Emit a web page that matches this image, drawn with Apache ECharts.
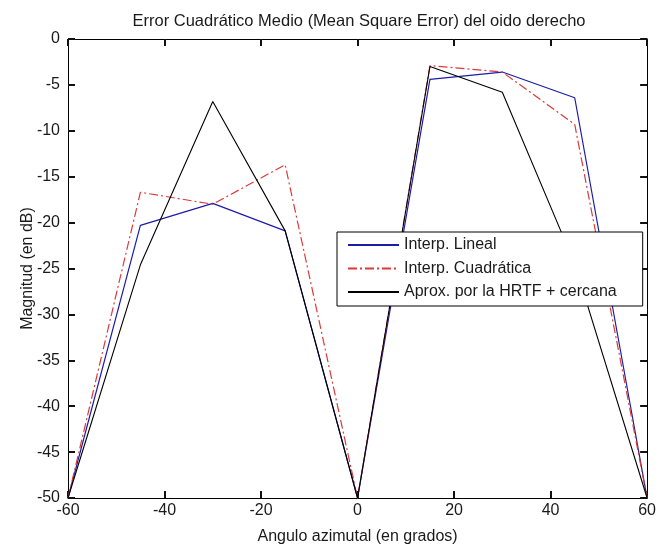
<!DOCTYPE html>
<html>
<head>
<meta charset="utf-8">
<script src="https://cdn.jsdelivr.net/npm/echarts@6/dist/echarts.min.js"></script>
<style>html,body{margin:0;padding:0;background:#fff;}#c{width:659px;height:550px;}</style>
</head>
<body>
<div id="c"></div>
<script>
var angles = [-60, -45, -30, -15, 0, 15, 30, 45, 60];
var linealVals = [-50, -20.3, -17.9, -20.9, -50, -4.4, -3.6, -6.4, -50];
var cuadraticaVals = [-50, -16.7, -18.0, -13.7, -50, -2.9, -3.6, -9.3, -50];
var cercanaVals = [-50, -24.6, -6.8, -20.9, -50, -3.0, -5.8, -24.5, -50];
var seriesNames = ['Interp. Lineal', 'Interp. Cuadrática', 'Aprox. por la HRTF + cercana'];
var titleText = 'Error Cuadrático Medio (Mean Square Error) del oido derecho';
var xName = 'Angulo azimutal (en grados)';
var yName = 'Magnitud (en dB)';

function pairs(vals) { return angles.map(function (a, i) { return [a, vals[i]]; }); }

var FONT = 'Liberation Sans, Arial, sans-serif';
var FS = 16;
var TXT = '#1a1a1a';
var tickStyle = { show: true, inside: true, length: 7, lineStyle: { color: '#111', width: 2 } };
var lineStyleAx = { show: true, onZero: false, lineStyle: { color: '#000', width: 1 } };

var chart = echarts.init(document.getElementById('c'), null, { renderer: 'canvas' });
chart.setOption({
  backgroundColor: '#fff',
  animation: false,
  textStyle: { fontFamily: FONT },
  title: {
    text: titleText, left: 359, top: 13, padding: 0, textAlign: 'center',
    textStyle: { fontFamily: FONT, fontSize: 16.5, fontWeight: 'normal', color: TXT }
  },
  grid: { left: 68, right: 3, top: 39, bottom: 48 },
  legend: {
    orient: 'vertical', left: 337, top: 232,
    padding: [5, 26, 6, 10], itemGap: 7.5, itemWidth: 51, itemHeight: 16,
    backgroundColor: '#fff', borderColor: '#000', borderWidth: 1, borderRadius: 0,
    itemStyle: { opacity: 0 },
    textStyle: { fontFamily: FONT, fontSize: FS, color: TXT },
    data: seriesNames
  },
  xAxis: [
    { type: 'value', min: -60, max: 60, interval: 20, position: 'bottom',
      name: xName, nameLocation: 'middle', nameGap: 31, nameMoveOverlap: false,
      nameTextStyle: { fontFamily: FONT, fontSize: FS, color: TXT },
      axisLine: lineStyleAx, axisTick: tickStyle, splitLine: { show: false },
      axisLabel: { fontFamily: FONT, fontSize: FS, color: TXT, margin: 5 } },
    { type: 'value', min: -60, max: 60, interval: 20, position: 'top',
      axisLine: lineStyleAx, axisTick: tickStyle, splitLine: { show: false },
      axisLabel: { show: false } }
  ],
  yAxis: [
    { type: 'value', min: -50, max: 0, interval: 5, position: 'left',
      name: yName, nameLocation: 'middle', nameGap: 32, nameMoveOverlap: false,
      nameTextStyle: { fontFamily: FONT, fontSize: FS, color: TXT },
      axisLine: lineStyleAx, axisTick: tickStyle, splitLine: { show: false },
      axisLabel: { fontFamily: FONT, fontSize: FS, color: TXT, margin: 8 } },
    { type: 'value', min: -50, max: 0, interval: 5, position: 'right',
      axisLine: lineStyleAx, axisTick: tickStyle, splitLine: { show: false },
      axisLabel: { show: false } }
  ],
  series: [
    { name: seriesNames[0], type: 'line', data: pairs(linealVals), symbol: 'none',
      lineStyle: { color: '#1c1ca8', width: 1.2, type: 'solid' }, itemStyle: { color: '#1c1ca8' } },
    { name: seriesNames[1], type: 'line', data: pairs(cuadraticaVals), symbol: 'none',
      lineStyle: { color: '#dc3a3a', width: 1.2, type: [9, 3, 2, 3] }, itemStyle: { color: '#dc3a3a' } },
    { name: seriesNames[2], type: 'line', data: pairs(cercanaVals), symbol: 'none',
      lineStyle: { color: '#000', width: 1.1, type: 'solid' }, itemStyle: { color: '#000' } }
  ]
});
</script>
</body>
</html>
